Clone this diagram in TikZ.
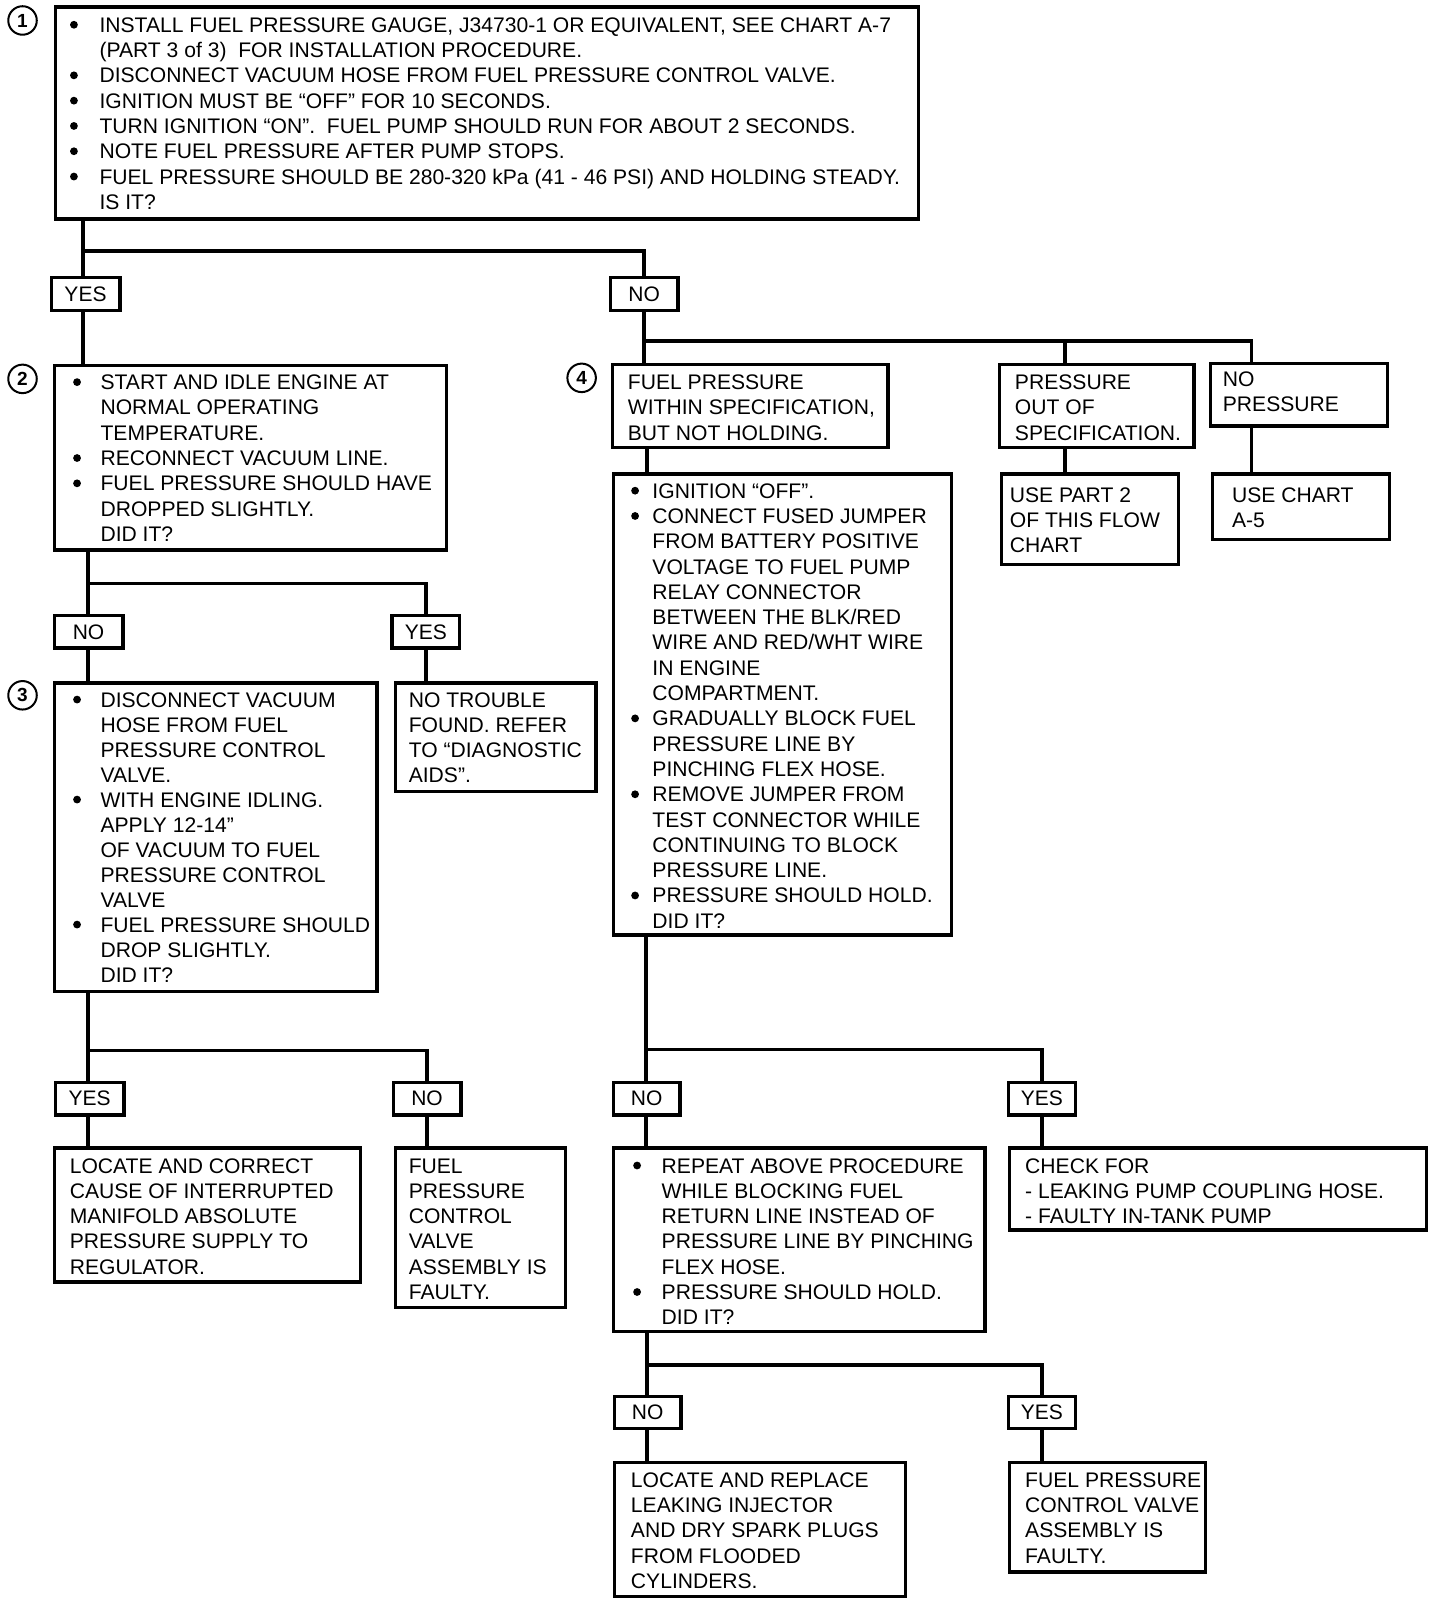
\documentclass[tikz,border=0pt]{standalone}
\usepackage{fontspec}
\setmainfont{Liberation Sans}
\usetikzlibrary{fit}
\newcommand\st{\rule{0pt}{20pt}}
\newcommand\bl[1]{\llap{\tikz[baseline=0pt]\fill (0,7.5pt) circle (3.9pt);\hspace{#1pt}}}
\newcommand\lbl[6]{\node[lb, minimum width={(#4-#2)*1.024pt}, minimum height={(#5-#3)*1.024pt}] (#1) at ({(#2+#4)/2},{(#3+#5)/2}) {#6};}
\begin{document}
\begin{tikzpicture}[x=1.024pt,y=-1.024pt,
 bx/.style={draw, line width=3.4pt, inner sep=0pt},
 lb/.style={draw, line width=3.4pt, inner sep=0pt, font=\fontsize{21}{25.3}\selectfont},
 tx/.style={anchor=north west, yshift=20pt, inner sep=0pt, align=left, font=\fontsize{21.1}{25.3}\selectfont},
 ln/.style={line width=3.4pt},
 cn/.style={circle, draw, line width=2pt, minimum size=28.5pt, inner sep=0pt, font=\fontsize{19}{19}\selectfont\bfseries}]
\fill[white] (0,0) rectangle (1406.25,1568.36);
\useasboundingbox (0,0) rectangle (1406.25,1568.36);

% step numbers
\node[cn] (c1) at (22,20) {1};
\node[cn] (c2) at (22,370) {2};
\node[cn] (c3) at (22,679) {3};
\node[cn] (c4) at (568,369) {4};

% boxes
\node[bx, fit={(54,7) (897,214)}] (b1) {};
\lbl{yes1}{50}{271}{117}{303}{YES}
\lbl{no1}{596}{271}{662}{303}{NO}
\node[bx, fit={(53,357) (436,537)}] (b2) {};
\lbl{no2}{53}{601}{120}{633}{NO}
\lbl{yes2}{383}{601}{449}{633}{YES}
\node[bx, fit={(53,667) (368,968)}] (b3) {};
\node[bx, fit={(386,667) (582,773)}] (ntf) {};
\lbl{yes3}{54}{1057}{121}{1089}{YES}
\lbl{no3}{384}{1057}{450}{1089}{NO}
\node[bx, fit={(53,1121) (352,1252)}] (lac) {};
\node[bx, fit={(386,1121) (552,1277)}] (fpcv1) {};

\node[bx, fit={(598,356) (867,437)}] (b4a) {};
\node[bx, fit={(599,463) (929,913)}] (b4b) {};
\node[bx, fit={(976,356) (1166,437)}] (po) {};
\node[bx, fit={(978,463) (1151,551)}] (up2) {};
\node[bx, fit={(1182,355) (1355,416)}] (np) {};
\node[bx, fit={(1184,463) (1357,527)}] (uca) {};
\lbl{no4}{599}{1057}{664}{1089}{NO}
\lbl{yes4}{985}{1057}{1050}{1089}{YES}
\node[bx, fit={(599,1121) (962,1300)}] (rep) {};
\node[bx, fit={(986,1121) (1393,1201)}] (chk) {};
\lbl{no5}{600}{1364}{665}{1395}{NO}
\lbl{yes5}{985}{1364}{1050}{1395}{YES}
\node[bx, fit={(600,1428) (884,1559)}] (lar) {};
\node[bx, fit={(986,1428) (1177,1535)}] (fpcv2) {};

% texts
\node[tx] (t1) at (97,31.3) {\st\bl{21.7}INSTALL FUEL PRESSURE GAUGE, J34730-1 OR EQUIVALENT, SEE CHART A-7\\
(PART 3 of 3)\ \ FOR INSTALLATION PROCEDURE.\\
\bl{21.7}DISCONNECT VACUUM HOSE FROM FUEL PRESSURE CONTROL VALVE.\\
\bl{21.7}IGNITION MUST BE “OFF” FOR 10 SECONDS.\\
\bl{21.7}TURN IGNITION “ON”.\ \ FUEL PUMP SHOULD RUN FOR ABOUT 2 SECONDS.\\
\bl{21.7}NOTE FUEL PRESSURE AFTER PUMP STOPS.\\
\bl{21.7}FUEL PRESSURE SHOULD BE 280-320 kPa (41 - 46 PSI) AND HOLDING STEADY.\\
IS IT?};

\node[tx] (t2) at (98,380.3) {\st\bl{19.6}START AND IDLE ENGINE AT\\
NORMAL OPERATING\\
TEMPERATURE.\\
\bl{19.6}RECONNECT VACUUM LINE.\\
\bl{19.6}FUEL PRESSURE SHOULD HAVE\\
DROPPED SLIGHTLY.\\
DID IT?};

\node[tx, font=\fontsize{21.1}{25}\selectfont] (t3) at (98,690.3) {\st\bl{19.6}DISCONNECT VACUUM\\
HOSE FROM FUEL\\
PRESSURE CONTROL\\
VALVE.\\
\bl{19.6}WITH ENGINE IDLING.\\
APPLY 12-14”\\
OF VACUUM TO FUEL\\
PRESSURE CONTROL\\
VALVE\\
\bl{19.6}FUEL PRESSURE SHOULD\\
DROP SLIGHTLY.\\
DID IT?};

\node[tx] (t4) at (399,690.3) {\st NO TROUBLE\\
FOUND. REFER\\
TO “DIAGNOSTIC\\
AIDS”.};

\node[tx] (t5) at (68,1145.3) {\st LOCATE AND CORRECT\\
CAUSE OF INTERRUPTED\\
MANIFOLD ABSOLUTE\\
PRESSURE SUPPLY TO\\
REGULATOR.};

\node[tx] (t6) at (399,1145.3) {\st FUEL\\
PRESSURE\\
CONTROL\\
VALVE\\
ASSEMBLY IS\\
FAULTY.};

\node[tx] (t7) at (613,380.3) {\st FUEL PRESSURE\\
WITHIN SPECIFICATION,\\
BUT NOT HOLDING.};

\node[tx] (t8) at (991,380.3) {\st PRESSURE\\
OUT OF\\
SPECIFICATION.};

\node[tx] (t9) at (1194,377.3) {\st NO\\
PRESSURE};

\node[tx] (t10) at (986,490.3) {\st USE PART 2\\
OF THIS FLOW\\
CHART};

\node[tx] (t11) at (1203,490.3) {\st USE CHART\\
A-5};

\node[tx] (t12) at (637,486.3) {\st\bl{13.5}IGNITION “OFF”.\\
\bl{13.5}CONNECT FUSED JUMPER\\
FROM BATTERY POSITIVE\\
VOLTAGE TO FUEL PUMP\\
RELAY CONNECTOR\\
BETWEEN THE BLK/RED\\
WIRE AND RED/WHT WIRE\\
IN ENGINE\\
COMPARTMENT.\\
\bl{13.5}GRADUALLY BLOCK FUEL\\
PRESSURE LINE BY\\
PINCHING FLEX HOSE.\\
\bl{13.5}REMOVE JUMPER FROM\\
TEST CONNECTOR WHILE\\
CONTINUING TO BLOCK\\
PRESSURE LINE.\\
\bl{13.5}PRESSURE SHOULD HOLD.\\
DID IT?};

\node[tx] (t13) at (646,1145.3) {\st\bl{20.7}REPEAT ABOVE PROCEDURE\\
WHILE BLOCKING FUEL\\
RETURN LINE INSTEAD OF\\
PRESSURE LINE BY PINCHING\\
FLEX HOSE.\\
\bl{20.7}PRESSURE SHOULD HOLD.\\
DID IT?};

\node[tx] (t14) at (1001,1145.3) {\st CHECK FOR\\
- LEAKING PUMP COUPLING HOSE.\\
- FAULTY IN-TANK PUMP};

\node[tx] (t15) at (616,1452.3) {\st LOCATE AND REPLACE\\
LEAKING INJECTOR\\
AND DRY SPARK PLUGS\\
FROM FLOODED\\
CYLINDERS.};

\node[tx] (t16) at (1001,1452.3) {\st FUEL PRESSURE\\
CONTROL VALVE\\
ASSEMBLY IS\\
FAULTY.};

% connectors
\coordinate (f1) at (81,245);
\draw[ln] (b1.south -| f1) -- (f1) -| (no1.north);
\draw[ln] (f1) -- (yes1.north -| f1);
\draw[ln] (yes1.south -| f1) -- (b2.north -| f1);

\coordinate (f2) at (86,570);
\draw[ln] (b2.south -| f2) -- (f2) -| (yes2.north);
\draw[ln] (f2) -- (no2.north -| f2);
\draw[ln] (no2.south -| f2) -- (b3.north -| f2);
\draw[ln] (yes2.south) -- (ntf.north -| yes2.south);

\coordinate (f3) at (86,1026);
\draw[ln] (b3.south -| f3) -- (f3) -| (no3.north);
\draw[ln] (f3) -- (yes3.north -| f3);
\draw[ln] (yes3.south -| f3) -- (lac.north -| f3);
\draw[ln] (no3.south) -- (fpcv1.north -| no3.south);

\coordinate (f4) at (629,333);
\coordinate (d2) at (1040,333);
\coordinate (d3) at (1222,333);
\draw[ln] (no1.south) -- (b4a.north -| no1.south);
\draw[ln] (f4) -- (d3) -- (d3 |- np.north);
\draw[ln] (d2) -- (d2 |- po.north);
\draw[ln] (d2 |- po.south) -- (d2 |- up2.north);
\draw[ln] (d3 |- np.south) -- (d3 |- uca.north);
\coordinate (v4) at (632,450);
\draw[ln] (b4a.south -| v4) -- (b4b.north -| v4);

\coordinate (f5) at (631,1025);
\draw[ln] (b4b.south -| f5) -- (f5) -| (yes4.north);
\draw[ln] (f5) -- (no4.north -| f5);
\draw[ln] (no4.south -| f5) -- (rep.north -| f5);
\draw[ln] (yes4.south) -- (chk.north -| yes4.south);

\coordinate (f6) at (632,1333);
\draw[ln] (rep.south -| f6) -- (f6) -| (yes5.north);
\draw[ln] (f6) -- (no5.north -| f6);
\draw[ln] (no5.south -| f6) -- (lar.north -| f6);
\draw[ln] (yes5.south) -- (fpcv2.north -| yes5.south);
\end{tikzpicture}
\end{document}
